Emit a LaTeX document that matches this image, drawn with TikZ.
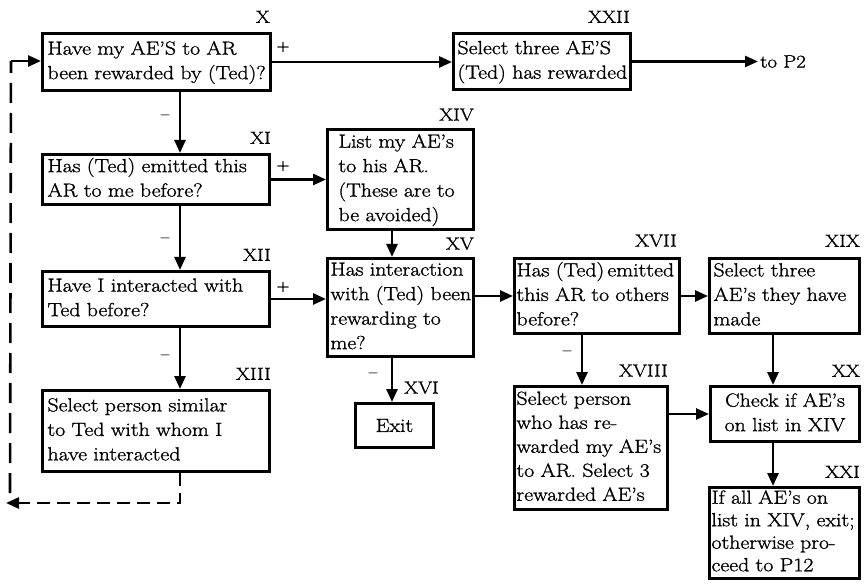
\documentclass[tikz,border=0pt]{standalone}
\usepackage{fontspec}
\setmainfont{Latin Modern Roman}[FakeStretch=1.15,FakeBold=1.2]
\usetikzlibrary{arrows.meta}
\newcommand{\boxlines}[1]{\begin{tabular}{@{}l@{}}#1\end{tabular}}
\newcommand{\boxlinesc}[1]{\begin{tabular}{@{}c@{}}#1\end{tabular}}
\begin{document}
\begin{tikzpicture}[x=1pt,y=-1pt,
  box/.style={draw,line width=3pt,anchor=north west,align=left,inner xsep=5pt,inner ysep=0pt,font=\fontsize{19}{24.5}\selectfont},
  num/.style={anchor=south east,inner sep=0pt,font=\fontsize{17.5}{17.5}\selectfont},
  arr/.style={line width=2.6pt,-{Triangle[length=13pt,width=11pt]}},
  sgn/.style={inner sep=0pt,font=\fontsize{16}{16}\selectfont}]
\useasboundingbox (0,0) rectangle (867,585);
% column coordinates
\coordinate (colA) at (180,0);
\coordinate (colB) at (392,0);
\coordinate (colC) at (582,0);
\coordinate (colD) at (773,0);
% boxes
\node[box,minimum width=228pt,minimum height=57pt,text width=218pt] (X) at (41,32) {\boxlines{Have my AE'S to AR\\been rewarded by (Ted)?}};
\node[box,minimum width=177pt,minimum height=56pt,text width=169pt,inner xsep=4pt] (XXII) at (452,32) {\boxlines{Select three AE'S\\(Ted) has rewarded}};
\node[box,minimum width=227pt,minimum height=50pt,text width=217pt] (XI) at (41,153) {\boxlines{Has (Ted) emitted this\\AR to me before?}};
\node[box,minimum width=146pt,minimum height=100pt,text width=124pt,inner xsep=11pt] (XIV) at (326,128) {\boxlines{List my AE's\\to his AR.\\(These are to\\be avoided)}};
\node[box,minimum width=227pt,minimum height=55pt,text width=217pt] (XII) at (41,270) {\boxlines{Have I interacted with\\Ted before?}};
\node[box,minimum width=146pt,minimum height=98pt,text width=140pt,inner xsep=3pt] (XV) at (326,257) {\boxlines{Has interaction\\with (Ted) been\\rewarding to\\me?}};
\node[box,minimum width=227pt,minimum height=81pt,text width=217pt] (XIII) at (41,389) {\boxlines{Select person similar\\to Ted with whom I\\have interacted}};
\node[box,minimum width=78pt,minimum height=44pt,text width=70pt,align=center,inner xsep=4pt] (XVI) at (354,402) {Exit};
\node[box,minimum width=165pt,minimum height=75pt,text width=161pt,inner xsep=2pt] (XVII) at (513,257) {\boxlines{Has (Ted)\,emitted\\this AR to others\\before?}};
\node[box,minimum width=150pt,minimum height=75pt,text width=142pt,inner xsep=4pt] (XIX) at (708,257) {\boxlines{Select three\\AE's they have\\made}};
\node[box,minimum width=153pt,minimum height=123pt,text width=149pt,inner xsep=2pt,font=\fontsize{19}{24}\selectfont] (XVIII) at (513,385) {\boxlines{Select person\\who has re-\\warded my AE's\\to AR. Select 3\\rewarded AE's}};
\node[box,minimum width=149pt,minimum height=55pt,text width=143pt,inner xsep=3pt,align=center] (XX) at (709,385) {\boxlinesc{Check if AE's\\on list in XIV}};
\node[box,minimum width=150pt,minimum height=91pt,text width=146pt,inner xsep=2pt,font=\fontsize{19}{22.5}\selectfont] (XXI) at (708,486) {\boxlines{If all AE's on\\list in XIV, exit;\\otherwise pro-\\ceed to P12}};
\node[anchor=west,inner sep=2pt,font=\fontsize{18}{18}\selectfont] (toP2) at ([xshift=126pt]XXII.east) {to P2};
% numerals
\node[num] (nX) at ([xshift=-2pt,yshift=9pt]X.north east) {X};
\node[num] (nXXII) at ([xshift=-2pt,yshift=9pt]XXII.north east) {XXII};
\node[num] (nXI) at ([xshift=0pt,yshift=9pt]XI.north east) {XI};
\node[num] (nXIV) at ([xshift=-1pt,yshift=7pt]XIV.north east) {XIV};
\node[num] (nXII) at ([xshift=0pt,yshift=9pt]XII.north east) {XII};
\node[num] (nXV) at ([xshift=-1pt,yshift=7pt]XV.north east) {XV};
\node[num] (nXIII) at ([xshift=0pt,yshift=9pt]XIII.north east) {XIII};
\node[num,anchor=south west] (nXVI) at (404,394) {XVI};
\node[num] (nXVII) at ([xshift=-4pt,yshift=10pt]XVII.north east) {XVII};
\node[num] (nXIX) at ([xshift=-1pt,yshift=10pt]XIX.north east) {XIX};
\node[num] (nXVIII) at ([xshift=-1pt,yshift=8pt]XVIII.north east) {XVIII};
\node[num] (nXX) at ([xshift=-1pt,yshift=8pt]XX.north east) {XX};
\node[num] (nXXI) at ([xshift=-1pt,yshift=8pt]XXI.north east) {XXI};
% signs
\node[sgn] (s1) at (283,47) {+};
\node[sgn] (s2) at (283,166) {+};
\node[sgn] (s3) at (283,287) {+};
\node[sgn] (m1) at (165,117) {--};
\node[sgn] (m2) at (165,240) {--};
\node[sgn] (m3) at (165,357) {--};
\node[sgn] (m4) at (373,375) {--};
\node[sgn] (m5) at (567,353) {--};
% connectors
\draw[arr] (X.east) -- (XXII.west |- X.east);
\draw[arr] (XXII.east) -- (toP2.west);
\draw[arr] (X.south -| colA) -- (XI.north -| colA);
\draw[arr] (XI.south -| colA) -- (XII.north -| colA);
\draw[arr] (XII.south -| colA) -- (XIII.north -| colA);
\draw[arr] (XI.east) -- (XIV.west |- XI.east);
\draw[arr] (XII.east) -- (XV.west |- XII.east);
\draw[arr] (XIV.south -| colB) -- (XV.north -| colB);
\draw[arr] (XV.south -| colB) -- (XVI.north -| colB);
\draw[arr] (XV.east |- XVII.west) -- (XVII.west);
\draw[arr] (XVII.east) -- (XIX.west);
\draw[arr] (XVII.south -| colC) -- (XVIII.north -| colC);
\draw[arr] (XIX.south -| colD) -- (XX.north -| colD);
\draw[arr] (XX.south -| colD) -- (XXI.north -| colD);
\draw[arr] (XVIII.east |- XX.west) -- (XX.west);
% dashed return loop
\coordinate (lb) at (6,503);
\coordinate (lt) at (11,61);
\draw[arr,dash pattern=on 13pt off 7pt] (XIII.south -| colA) |- (lb);
\draw[line width=2.6pt,dash pattern=on 20pt off 10pt] (lb) ++(4,-10) -- (lt);
\draw[arr] (lt) -- (X.west |- lt);
\end{tikzpicture}
\end{document}
